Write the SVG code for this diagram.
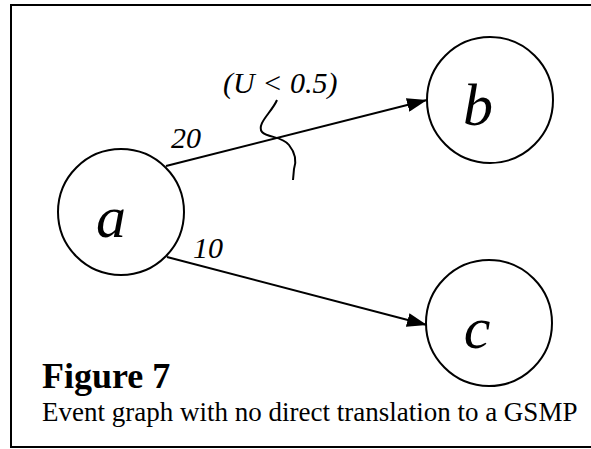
<svg xmlns="http://www.w3.org/2000/svg" width="591" height="449" viewBox="0 0 591 449">
<defs>
<style>
.node{fill:#fff;stroke:#000;stroke-width:2}
.nl{font-family:"Liberation Serif",serif;font-style:italic;font-size:60px;fill:#000;text-anchor:middle}
.el{font-family:"Liberation Serif",serif;font-style:italic;font-size:30px;fill:#000}
.edge{fill:none;stroke:#000;stroke-width:2}
</style>
<marker id="arr" markerWidth="20" markerHeight="14" refX="20" refY="7" orient="auto" markerUnits="userSpaceOnUse">
<path d="M0,0 L20,7 L0,14 Z" fill="#000"/>
</marker>
</defs>
<rect width="591" height="449" fill="#fff"/>
<rect id="frame" x="11" y="5" width="600" height="442" fill="none" stroke="#000" stroke-width="2"/>
<g id="connectors">
<line class="edge" x1="166" y1="166" x2="427" y2="100" marker-end="url(#arr)"/>
<line class="edge" x1="167" y1="257" x2="427" y2="325" marker-end="url(#arr)"/>
<path class="edge" d="M277,100 C272,112 256,124 262,132 C268,138 282,136 289,145 C297,155 296,163 294,169 L293,180"/>
<text class="el" x="171" y="148">20</text>
<text class="el" x="193" y="258">10</text>
<text class="el" x="223" y="93">(U &lt; 0.5)</text>
</g>
<g id="a">
<circle class="node" cx="121" cy="212" r="63"/>
<text class="nl" x="111" y="237">a</text>
</g>
<g id="b">
<circle class="node" cx="490" cy="100" r="63"/>
<text class="nl" x="478" y="125">b</text>
</g>
<g id="c">
<circle class="node" cx="489" cy="323" r="63"/>
<text class="nl" x="477" y="348">c</text>
</g>
<g id="caption">
<text x="42" y="388" font-family="Liberation Serif, serif" font-weight="bold" font-size="36">Figure 7</text>
<text x="42" y="421" font-family="Liberation Serif, serif" font-size="27">Event graph with no direct translation to a GSMP</text>
</g>
</svg>
